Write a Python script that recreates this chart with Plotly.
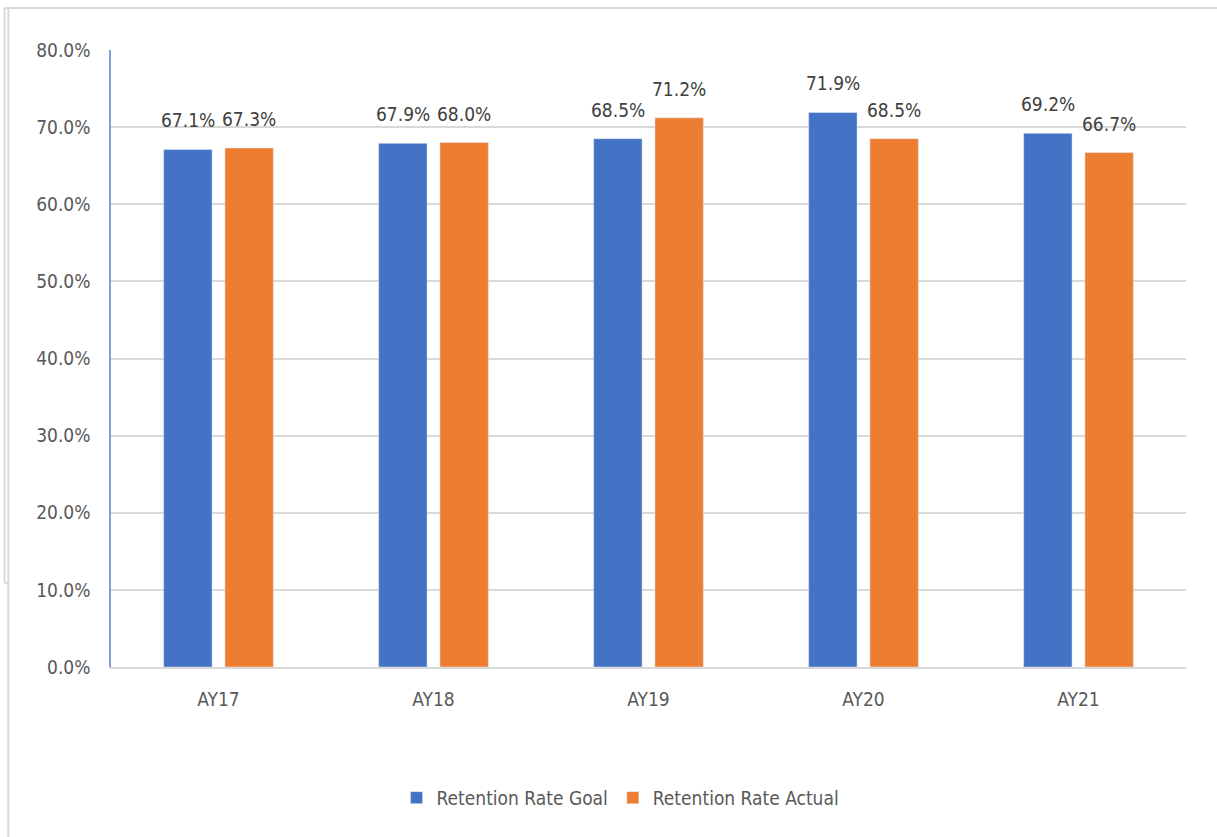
import plotly.graph_objects as go

years = ["AY17", "AY18", "AY19", "AY20", "AY21"]
goal = [67.1, 67.9, 68.5, 71.9, 69.2]
actual = [67.3, 68.0, 71.2, 68.5, 66.7]

BLUE = "#4472C4"
ORANGE = "#ED7D31"
TEXT = "#595959"
LABEL = "#404040"
FONT = "DejaVu Sans Condensed, Roboto, Liberation Sans, sans-serif"
FONT_SIZE = 19

fig = go.Figure()
fig.add_trace(go.Bar(name="Retention Rate Goal", x=years, y=[v / 100 for v in goal],
                     marker_color=BLUE))
fig.add_trace(go.Bar(name="Retention Rate Actual", x=years, y=[v / 100 for v in actual],
                     marker_color=ORANGE))

# value labels above each bar, offset to the left/right bar of each group
annotations = []
for series, shift in ((goal, -30.5), (actual, 30.5)):
    for year, v in zip(years, series):
        annotations.append(dict(
            x=year, y=v / 100, xref="x", yref="y", text=f"{v:.1f}%",
            showarrow=False, yanchor="bottom", xshift=shift, yshift=16,
            font=dict(size=FONT_SIZE, color=LABEL, family=FONT),
        ))

fig.update_layout(
    width=1217, height=837,
    margin=dict(l=111, r=31, t=50, b=170),
    paper_bgcolor="white", plot_bgcolor="white",
    barmode="group", bargap=0.43, bargroupgap=0.21,
    font=dict(family=FONT, size=FONT_SIZE, color=TEXT),
    showlegend=True,
    legend=dict(orientation="h", x=0.474, xanchor="center", y=-0.212, yanchor="middle",
                font=dict(size=FONT_SIZE, color=TEXT), itemwidth=30),
    annotations=annotations,
    shapes=[
        # chart frame
        dict(type="line", xref="paper", yref="paper", x0=-0.099, x1=1.04, y0=1.068, y1=1.068,
             line=dict(color="#d9d9d9", width=2)),
        dict(type="line", xref="paper", yref="paper", x0=-0.0955, x1=-0.0955, y0=1.068, y1=-0.28,
             line=dict(color="#d9d9d9", width=2)),
        dict(type="line", xref="paper", yref="paper", x0=-0.099, x1=-0.099, y0=1.068, y1=0.136,
             line=dict(color="#d9d9d9", width=2)),
        dict(type="line", xref="paper", yref="paper", x0=-0.099, x1=-0.0955, y0=0.136, y1=0.136,
             line=dict(color="#d9d9d9", width=2)),
    ],
)
fig.update_yaxes(
    range=[0, 0.8], dtick=0.1, tickformat=".1%",
    showgrid=True, gridcolor="#d9d9d9", gridwidth=1.5,
    showline=True, linecolor="#7f9fd8", linewidth=1.5,
    zeroline=False, ticks="", ticklabelstandoff=15,
    tickfont=dict(size=FONT_SIZE, color=TEXT),
)
fig.update_xaxes(
    showline=True, linecolor="#d9d9d9", linewidth=2,
    ticks="", ticklabelstandoff=14,
    tickfont=dict(size=FONT_SIZE, color=TEXT),
)

fig.write_html("out.html")
